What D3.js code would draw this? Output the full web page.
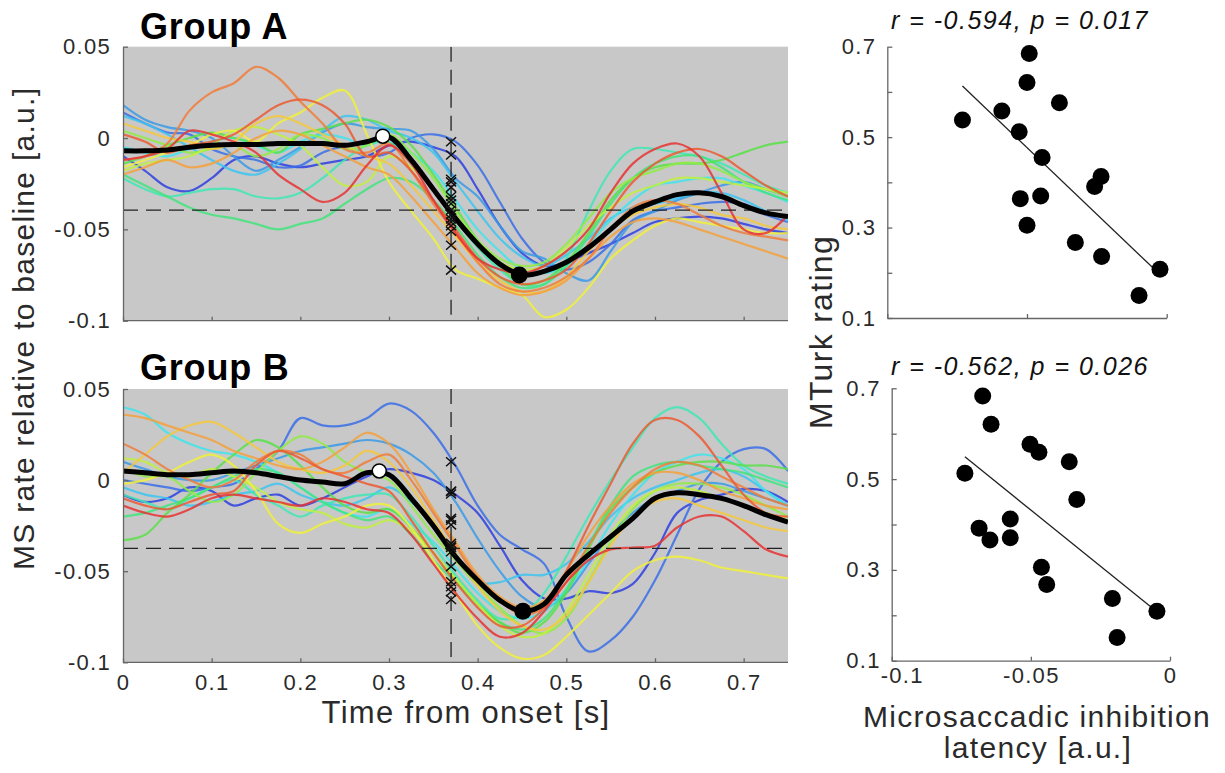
<!DOCTYPE html>
<meta charset="utf-8" />
<title>MS rate and MTurk rating</title>
<style>
  body { margin: 0; background: #fff; }
  svg { display: block; font-family: "Liberation Sans", Arial, sans-serif; }
  text { fill: #2a2a2a; letter-spacing: 1.3px; }
  .trace { fill: none; stroke-width: 2.2px; stroke-opacity: 0.85; }
  .mean { fill: none; stroke: #000; stroke-width: 5px; stroke-linejoin: round; }
  .dash { stroke: #222; stroke-width: 1.3px; stroke-dasharray: 15 8; }
  .axis path, .axis line { stroke: #666; stroke-width: 1.3px; }
  .axis text { font-size: 22px; fill: #2a2a2a; font-family: "Liberation Sans", Arial, sans-serif; }
</style>
<body>
<svg width="1225" height="773"></svg>
<script src="https://d3js.org/d3.v7.min.js"></script>
<script>
  // ---- data ----
  const times = [0, 0.025, 0.05, 0.075, 0.1, 0.125, 0.15, 0.175, 0.2, 0.225, 0.25, 0.275, 0.3, 0.325, 0.35, 0.375,
    0.4, 0.425, 0.45, 0.475, 0.5, 0.525, 0.55, 0.575, 0.6, 0.625, 0.65, 0.675, 0.7, 0.725, 0.75];

  const traceColors = ["#2d3fe0", "#3a6fe8", "#3a9ae8", "#3cc4f0", "#40e4ec", "#3ee8b4", "#42e47c", "#5ae04a",
    "#90ec44", "#c0f040", "#f0f03c", "#f4c83c", "#f4a03c", "#f07c3a", "#ec5a32", "#e83232"];

  const tracesA = [
    [-0.010,-0.018,-0.027,-0.029,-0.022,-0.012,-0.010,-0.014,-0.016,-0.014,-0.012,-0.010,-0.004,-0.002,-0.005,-0.010,-0.028,-0.048,-0.063,-0.070,-0.068,-0.063,-0.058,-0.052,-0.046,-0.044,-0.043,-0.044,-0.047,-0.050,-0.052],
    [0.014,0.008,0.003,0.002,-0.006,-0.010,-0.012,-0.016,-0.015,-0.008,-0.005,-0.010,-0.008,0.000,0.002,-0.002,-0.015,-0.035,-0.055,-0.068,-0.072,-0.068,-0.058,-0.045,-0.040,-0.038,-0.036,-0.035,-0.036,-0.042,-0.046],
    [0.018,0.010,0.006,0.004,0.000,-0.010,-0.018,-0.012,-0.005,0.003,0.008,0.006,0.005,0.004,-0.006,-0.022,-0.032,-0.048,-0.062,-0.066,-0.074,-0.078,-0.062,-0.046,-0.040,-0.034,-0.030,-0.026,-0.024,-0.028,-0.032],
    [0.012,0.008,0.002,-0.005,-0.012,-0.018,-0.020,-0.014,-0.006,0.004,0.012,0.010,0.004,0.000,-0.008,-0.024,-0.040,-0.055,-0.065,-0.070,-0.064,-0.055,-0.044,-0.038,-0.036,-0.033,-0.030,-0.030,-0.034,-0.040,-0.045],
    [-0.005,-0.008,-0.010,-0.006,-0.002,0.000,-0.004,-0.008,-0.002,0.002,0.000,-0.004,0.000,-0.008,-0.018,-0.034,-0.050,-0.062,-0.072,-0.074,-0.070,-0.058,-0.045,-0.034,-0.026,-0.024,-0.022,-0.022,-0.026,-0.030,-0.035],
    [-0.022,-0.028,-0.032,-0.030,-0.028,-0.028,-0.032,-0.033,-0.030,-0.022,-0.012,-0.004,-0.002,-0.014,-0.028,-0.044,-0.060,-0.072,-0.080,-0.080,-0.066,-0.040,-0.018,-0.006,-0.006,-0.008,-0.010,-0.014,-0.020,-0.026,-0.030],
    [-0.020,-0.026,-0.032,-0.038,-0.042,-0.044,-0.047,-0.050,-0.047,-0.044,-0.036,-0.028,-0.022,-0.024,-0.034,-0.048,-0.064,-0.076,-0.082,-0.080,-0.070,-0.054,-0.036,-0.022,-0.014,-0.010,-0.010,-0.016,-0.024,-0.030,-0.034],
    [-0.014,-0.010,-0.004,0.000,0.003,0.000,-0.003,-0.008,0.002,0.005,0.008,0.010,0.006,-0.004,-0.020,-0.038,-0.056,-0.070,-0.080,-0.078,-0.068,-0.052,-0.034,-0.022,-0.016,-0.014,-0.014,-0.012,-0.008,-0.004,-0.002],
    [0.004,0.000,-0.004,-0.008,-0.006,-0.004,-0.010,-0.006,0.002,0.000,-0.006,-0.004,0.002,-0.008,-0.022,-0.040,-0.056,-0.066,-0.070,-0.068,-0.058,-0.044,-0.030,-0.022,-0.018,-0.014,-0.014,-0.018,-0.024,-0.028,-0.032],
    [-0.018,-0.014,-0.012,-0.010,-0.004,0.004,0.006,0.002,-0.004,-0.016,-0.026,-0.024,-0.010,-0.016,-0.028,-0.044,-0.058,-0.068,-0.072,-0.070,-0.060,-0.048,-0.038,-0.030,-0.026,-0.022,-0.022,-0.024,-0.026,-0.028,-0.030],
    [-0.016,-0.012,-0.008,-0.004,0.002,0.004,-0.002,0.008,0.014,0.022,0.026,0.002,-0.024,-0.040,-0.055,-0.072,-0.077,-0.082,-0.086,-0.098,-0.094,-0.082,-0.066,-0.056,-0.048,-0.044,-0.046,-0.048,-0.050,-0.052,-0.052],
    [0.008,0.004,0.000,-0.002,-0.006,-0.002,0.008,0.012,0.008,0.002,-0.004,-0.010,-0.014,-0.026,-0.040,-0.054,-0.068,-0.078,-0.084,-0.084,-0.076,-0.062,-0.050,-0.042,-0.038,-0.036,-0.038,-0.042,-0.044,-0.048,-0.050],
    [-0.020,-0.016,-0.012,-0.016,-0.014,-0.008,0.000,0.004,0.002,-0.004,-0.010,-0.016,-0.020,-0.032,-0.046,-0.060,-0.074,-0.082,-0.086,-0.084,-0.078,-0.066,-0.054,-0.046,-0.044,-0.046,-0.050,-0.054,-0.058,-0.062,-0.066],
    [-0.012,-0.010,-0.003,0.015,0.025,0.030,0.039,0.033,0.020,0.008,-0.006,-0.008,-0.003,-0.018,-0.036,-0.052,-0.068,-0.080,-0.084,-0.082,-0.076,-0.066,-0.050,-0.038,-0.034,-0.036,-0.042,-0.048,-0.052,-0.054,-0.056],
    [0.002,-0.002,-0.008,-0.004,-0.002,0.002,0.010,0.018,0.021,0.018,0.008,-0.010,-0.008,-0.018,-0.034,-0.050,-0.066,-0.076,-0.080,-0.078,-0.072,-0.058,-0.040,-0.024,-0.014,-0.008,-0.006,-0.010,-0.018,-0.026,-0.032],
    [-0.012,-0.010,-0.006,0.004,0.002,-0.002,-0.008,-0.020,-0.028,-0.035,-0.030,-0.015,-0.004,-0.014,-0.034,-0.052,-0.066,-0.072,-0.074,-0.070,-0.062,-0.050,-0.030,-0.014,-0.006,-0.003,-0.010,-0.030,-0.050,-0.052,-0.042]
  ];

  const tracesB = [
    [-0.008,-0.012,-0.010,-0.004,-0.006,-0.014,-0.010,-0.008,-0.014,-0.010,-0.004,0.002,0.006,0.004,0.000,-0.008,-0.018,-0.036,-0.055,-0.065,-0.065,-0.061,-0.062,-0.057,-0.040,-0.018,-0.011,-0.008,-0.005,-0.006,-0.012],
    [0.000,-0.002,-0.004,-0.006,-0.004,-0.002,0.006,0.016,0.034,0.030,0.030,0.034,0.042,0.038,0.026,0.008,-0.014,-0.030,-0.038,-0.046,-0.075,-0.094,-0.088,-0.075,-0.055,-0.030,-0.005,0.010,0.017,0.017,0.005],
    [0.010,0.006,0.002,0.000,0.000,0.004,0.008,0.012,0.016,0.018,0.020,0.022,0.020,0.014,0.004,-0.012,-0.032,-0.050,-0.064,-0.070,-0.062,-0.046,-0.030,-0.018,-0.010,-0.006,-0.002,-0.002,-0.006,-0.010,-0.014],
    [-0.004,-0.008,-0.010,-0.014,-0.012,-0.008,-0.006,-0.002,-0.008,-0.012,-0.014,-0.010,-0.004,-0.012,-0.024,-0.040,-0.056,-0.056,-0.052,-0.052,-0.046,-0.034,-0.020,-0.010,-0.004,0.000,0.004,0.006,0.002,-0.006,-0.014],
    [0.040,0.036,0.026,0.020,0.016,0.014,0.010,0.004,-0.004,-0.012,-0.018,-0.020,-0.016,-0.024,-0.034,-0.048,-0.062,-0.072,-0.076,-0.072,-0.060,-0.044,-0.024,-0.008,0.004,0.010,0.014,0.012,0.006,-0.006,-0.014],
    [-0.008,-0.012,-0.016,-0.010,-0.004,0.000,-0.008,-0.014,-0.020,-0.014,-0.010,-0.008,-0.008,-0.020,-0.036,-0.052,-0.066,-0.076,-0.074,-0.062,-0.042,-0.020,0.000,0.018,0.034,0.040,0.034,0.020,0.008,0.002,-0.002],
    [-0.020,-0.018,-0.014,-0.010,-0.004,0.002,0.006,0.004,-0.004,-0.012,-0.018,-0.022,-0.020,-0.030,-0.044,-0.056,-0.068,-0.078,-0.082,-0.076,-0.060,-0.036,-0.014,0.002,0.008,0.010,0.008,0.006,0.004,0.000,-0.004],
    [-0.033,-0.030,-0.018,-0.008,0.004,0.014,0.022,0.018,0.008,-0.004,-0.014,-0.018,-0.016,-0.026,-0.040,-0.054,-0.068,-0.078,-0.084,-0.078,-0.062,-0.038,-0.016,-0.004,0.004,0.008,0.010,0.010,0.008,0.008,0.006],
    [0.006,0.002,0.002,-0.006,-0.012,-0.008,0.004,0.016,0.024,0.020,0.010,0.004,0.000,-0.014,-0.030,-0.044,-0.058,-0.070,-0.080,-0.084,-0.076,-0.056,-0.034,-0.016,-0.006,-0.002,-0.002,-0.004,-0.008,-0.014,-0.020],
    [0.012,0.010,0.004,0.002,0.006,0.002,-0.004,-0.012,-0.016,-0.018,-0.024,-0.026,-0.022,-0.028,-0.040,-0.054,-0.068,-0.080,-0.086,-0.084,-0.072,-0.052,-0.030,-0.014,-0.006,-0.004,-0.006,-0.010,-0.014,-0.018,-0.022],
    [-0.002,0.000,0.004,0.010,0.014,0.008,-0.006,-0.024,-0.029,-0.024,-0.020,-0.014,-0.014,-0.026,-0.044,-0.062,-0.080,-0.092,-0.098,-0.096,-0.086,-0.074,-0.062,-0.050,-0.044,-0.042,-0.044,-0.048,-0.050,-0.052,-0.054],
    [0.004,0.014,0.024,0.030,0.032,0.026,0.018,0.010,0.006,0.004,0.008,0.016,0.010,-0.004,-0.022,-0.040,-0.058,-0.072,-0.080,-0.082,-0.074,-0.056,-0.036,-0.020,-0.012,-0.010,-0.014,-0.018,-0.022,-0.026,-0.028],
    [0.036,0.034,0.030,0.026,0.022,0.016,0.012,0.008,0.006,0.010,0.018,0.026,0.020,0.004,-0.016,-0.034,-0.052,-0.064,-0.070,-0.066,-0.050,-0.030,-0.014,-0.002,0.004,0.004,0.000,-0.006,-0.010,-0.014,-0.016],
    [0.020,0.014,0.006,0.000,-0.004,0.000,0.010,0.016,0.014,0.006,0.004,0.010,0.014,0.000,-0.018,-0.036,-0.054,-0.066,-0.074,-0.070,-0.056,-0.036,-0.018,-0.004,0.006,0.010,0.008,0.002,-0.004,-0.010,-0.014],
    [-0.010,-0.014,-0.016,-0.012,-0.008,-0.006,0.008,0.016,0.012,0.006,0.002,-0.002,-0.006,-0.022,-0.040,-0.056,-0.070,-0.080,-0.080,-0.070,-0.050,-0.025,-0.002,0.020,0.033,0.033,0.024,0.008,-0.008,-0.018,-0.020],
    [-0.014,-0.018,-0.020,-0.016,-0.010,-0.008,-0.010,-0.012,-0.014,-0.010,-0.012,-0.016,-0.018,-0.030,-0.046,-0.062,-0.076,-0.086,-0.084,-0.072,-0.056,-0.044,-0.038,-0.037,-0.036,-0.026,-0.020,-0.020,-0.028,-0.038,-0.042]
  ];

  const meanA = [-0.007,-0.007,-0.0065,-0.005,-0.004,-0.0035,-0.0035,-0.003,-0.003,-0.003,-0.004,-0.002,0.0005,-0.012,-0.028,-0.044,
    -0.058,-0.069,-0.075,-0.073,-0.068,-0.060,-0.050,-0.040,-0.035,-0.031,-0.030,-0.032,-0.037,-0.041,-0.043];
  const meanB = [0.005,0.004,0.003,0.003,0.004,0.005,0.004,0.002,0.000,-0.001,-0.002,0.004,0.003,-0.010,-0.025,-0.042,
    -0.055,-0.066,-0.072,-0.068,-0.052,-0.041,-0.031,-0.021,-0.010,-0.007,-0.008,-0.010,-0.014,-0.019,-0.023];

  // inhibition onset latency (x marks at the dashed vertical line)
  const latencyTime = 0.37;
  const marksA = [-0.002,-0.0093,-0.0226,-0.024,-0.027,-0.032,-0.034,-0.036,-0.0394,-0.042,-0.0443,-0.046,-0.048,-0.051,-0.0587,-0.0723];
  const marksB = [0.0101,-0.0064,-0.0076,-0.006,-0.021,-0.022,-0.0246,-0.0347,-0.036,-0.0369,-0.0393,-0.0475,-0.0558,-0.0585,-0.0613,-0.0655];
  const thresholds = [-0.0395, -0.0375];
  const onsetA = [0.293, 0.001], troughA = [0.447, -0.075];
  const onsetB = [0.289, 0.005], troughB = [0.451, -0.072];

  // scatter: latency vs MTurk rating
  const latencyA = [-0.0731,-0.059,-0.0528,-0.0492,-0.050,-0.0384,-0.0446,-0.0524,-0.0451,-0.050,-0.0258,-0.0235,-0.0327,-0.0233,-0.0024,-0.0099];
  const ratingA  = [0.538,0.558,0.512,0.685,0.621,0.576,0.455,0.364,0.370,0.305,0.391,0.413,0.267,0.236,0.208,0.150];
  const latencyB = [-0.0673,-0.0643,-0.0737,-0.0503,-0.0471,-0.0362,-0.0335,-0.0574,-0.0686,-0.0647,-0.0574,-0.0462,-0.0443,-0.0207,-0.0047,-0.0190];
  const ratingB  = [0.683,0.621,0.513,0.577,0.559,0.538,0.455,0.412,0.392,0.366,0.371,0.306,0.268,0.237,0.209,0.151];
  const fitA = [[-0.0731, 0.613], [-0.0024, 0.196]];
  const fitB = [[-0.0737, 0.549], [-0.0047, 0.208]];
  const statsText = ["r = -0.594, p = 0.017", "r = -0.562, p = 0.026"];
  const groupNames = ["Group A", "Group B"];

  const timeTicks = [0, 0.1, 0.2, 0.3, 0.4, 0.5, 0.6, 0.7];
  const timeTickLabels = ["0", "0.1", "0.2", "0.3", "0.4", "0.5", "0.6", "0.7"];
  const rateTicks = [-0.1, -0.05, 0, 0.05];
  const rateTickLabels = ["-0.1", "-0.05", "0", "0.05"];
  const ratingTicks = [0.1, 0.2, 0.3, 0.4, 0.5, 0.6, 0.7];
  const ratingTickLabels = ["0.1", "", "0.3", "", "0.5", "", "0.7"];
  const latTicks = [-0.1, -0.05, 0];
  const latTickLabels = ["-0.1", "-0.05", "0"];

  // ---- drawing ----
  const svg = d3.select("svg");

  const timePanels = [
    { top: 46.7, bottom: 320.7, traces: tracesA, mean: meanA, marks: marksA, thr: thresholds[0], onset: onsetA, trough: troughA, name: groupNames[0], titleY: 39, labels: false },
    { top: 389, bottom: 662.3, traces: tracesB, mean: meanB, marks: marksB, thr: thresholds[1], onset: onsetB, trough: troughB, name: groupNames[1], titleY: 380, labels: true }
  ];

  timePanels.forEach((p, k) => {
    const x = d3.scaleLinear().domain([0, 0.75]).range([123, 788]);
    const y = d3.scaleLinear().domain([-0.1, 0.05]).range([p.bottom, p.top]);
    const g = svg.append("g");

    g.append("clipPath").attr("id", "clip" + k)
      .append("rect").attr("x", x(0)).attr("y", p.top).attr("width", x(0.75) - x(0)).attr("height", p.bottom - p.top);

    g.append("rect")
      .attr("x", x(0)).attr("y", p.top)
      .attr("width", x(0.75) - x(0)).attr("height", p.bottom - p.top)
      .attr("fill", "#c8c8c8");

    const line = d3.line()
      .x((d, i) => x(times[i]))
      .y(d => y(d))
      .curve(d3.curveCatmullRom.alpha(0.5));

    const plot = g.append("g").attr("clip-path", `url(#clip${k})`);
    plot.selectAll("path.trace")
      .data(p.traces)
      .join("path")
      .attr("class", "trace")
      .attr("stroke", (d, i) => traceColors[i])
      .attr("d", line);

    plot.append("line").attr("class", "dash")
      .attr("x1", x(0)).attr("x2", x(0.75))
      .attr("y1", y(p.thr)).attr("y2", y(p.thr));
    plot.append("line").attr("class", "dash")
      .attr("x1", x(latencyTime)).attr("x2", x(latencyTime))
      .attr("y1", p.top).attr("y2", p.bottom);

    plot.append("path").attr("class", "mean").attr("d", line(p.mean));

    g.selectAll("path.mark")
      .data(p.marks)
      .join("path")
      .attr("class", "mark")
      .attr("transform", d => `translate(${x(latencyTime)},${y(d)})`)
      .attr("d", "M-5,-4.5L5,4.5M-5,4.5L5,-4.5")
      .attr("stroke", "#111")
      .attr("stroke-width", 1.5);

    g.append("circle")
      .attr("cx", x(p.onset[0])).attr("cy", y(p.onset[1])).attr("r", 7)
      .attr("fill", "#fff").attr("stroke", "#000").attr("stroke-width", 1.6);
    g.append("circle")
      .attr("cx", x(p.trough[0])).attr("cy", y(p.trough[1])).attr("r", 8.5)
      .attr("fill", "#000");

    g.append("g").attr("class", "axis")
      .attr("transform", `translate(${x(0)},0)`)
      .call(d3.axisLeft(y).tickValues(rateTicks).tickSize(-5).tickSizeOuter(0).tickPadding(12)
        .tickFormat((d, i) => rateTickLabels[i]));
    const xAxis = g.append("g").attr("class", "axis")
      .attr("transform", `translate(0,${p.bottom})`)
      .call(d3.axisBottom(x).tickValues(timeTicks).tickSize(-4).tickSizeOuter(0).tickPadding(12)
        .tickFormat((d, i) => p.labels ? timeTickLabels[i] : ""));
    xAxis.select(".domain").attr("d", `M${x(0)},0H${x(0.75)}`);

    g.append("text")
      .attr("x", 140).attr("y", p.titleY)
      .attr("font-size", 36).attr("font-weight", "bold")
      .style("fill", "#000").style("letter-spacing", "0.8px")
      .text(p.name);
  });

  svg.append("text")
    .attr("transform", "translate(34,329) rotate(-90)")
    .attr("text-anchor", "middle")
    .attr("font-size", 30)
    .attr("textLength", 482).attr("lengthAdjust", "spacing")
    .style("letter-spacing", "0px")
    .text("MS rate relative to baseline [a.u.]");

  svg.append("text")
    .attr("x", 466).attr("y", 723)
    .attr("text-anchor", "middle")
    .attr("font-size", 31)
    .text("Time from onset [s]");

  // scatter panels
  const scatterPanels = [
    { left: 887.3, right: 1166.7, top: 46.7, bottom: 318, lat: latencyA, rating: ratingA, fit: fitA, stats: statsText[0], statsY: 28.5, labels: false },
    { left: 891.7, right: 1170, top: 388.3, bottom: 660.7, lat: latencyB, rating: ratingB, fit: fitB, stats: statsText[1], statsY: 375, labels: true }
  ];

  scatterPanels.forEach(p => {
    const x = d3.scaleLinear().domain([-0.1, 0]).range([p.left, p.right]);
    const y = d3.scaleLinear().domain([0.1, 0.7]).range([p.bottom, p.top]);
    const g = svg.append("g");

    g.append("g").attr("class", "axis")
      .attr("transform", `translate(${p.left},0)`)
      .call(d3.axisLeft(y).tickValues(ratingTicks).tickSize(-5).tickSizeOuter(0).tickPadding(11)
        .tickFormat((d, i) => ratingTickLabels[i]));
    const xAxis = g.append("g").attr("class", "axis")
      .attr("transform", `translate(0,${p.bottom})`)
      .call(d3.axisBottom(x).tickValues(latTicks).tickSize(-4).tickSizeOuter(0).tickPadding(7)
        .tickFormat((d, i) => p.labels ? latTickLabels[i] : ""));
    // keep the first latency label clear of the rating label beside it
    xAxis.selectAll(".tick text").filter((d, i) => i === 0).attr("dx", 10);

    g.append("line")
      .attr("x1", x(p.fit[0][0])).attr("y1", y(p.fit[0][1]))
      .attr("x2", x(p.fit[1][0])).attr("y2", y(p.fit[1][1]))
      .attr("stroke", "#222").attr("stroke-width", 1.3);

    g.selectAll("circle")
      .data(d3.zip(p.lat, p.rating))
      .join("circle")
      .attr("cx", d => x(d[0]))
      .attr("cy", d => y(d[1]))
      .attr("r", 8.5)
      .attr("fill", "#000");

    g.append("text")
      .attr("x", 1020).attr("y", p.statsY)
      .attr("text-anchor", "middle")
      .attr("font-size", 25).attr("font-style", "italic")
      .style("fill", "#111").style("letter-spacing", "1.5px")
      .text(p.stats);
  });

  svg.append("text")
    .attr("transform", "translate(832,332) rotate(-90)")
    .attr("text-anchor", "middle")
    .attr("font-size", 32)
    .text("MTurk rating");

  svg.append("text")
    .attr("x", 1037).attr("y", 727)
    .attr("text-anchor", "middle")
    .attr("font-size", 30)
    .text("Microsaccadic inhibition");
  svg.append("text")
    .attr("x", 1038).attr("y", 758)
    .attr("text-anchor", "middle")
    .attr("font-size", 30)
    .text("latency [a.u.]");
</script>
</body>
